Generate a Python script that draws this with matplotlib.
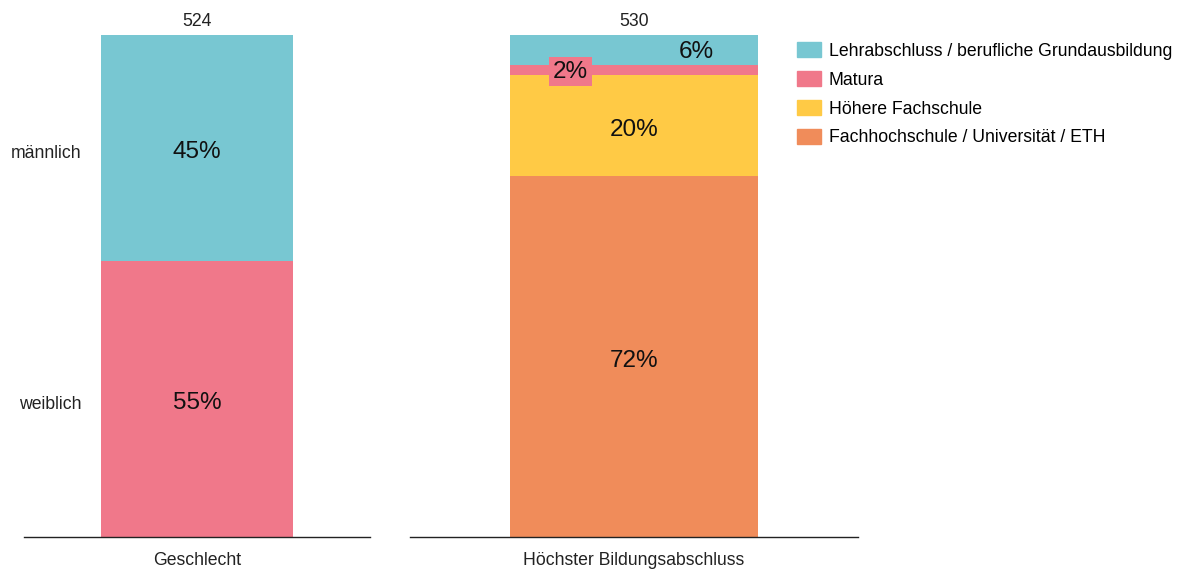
import matplotlib.pyplot as plt

plt.rcParams['font.family'] = ['Liberation Sans', 'DejaVu Sans']

# Geschlecht
gender_labels = ['weiblich', 'männlich']
gender_pct = [55, 45]
gender_n = 524

# Höchster Bildungsabschluss (von unten nach oben)
edu_labels = ['Fachhochschule / Universität / ETH', 'Höhere Fachschule', 'Matura',
              'Lehrabschluss / berufliche Grundausbildung']
edu_pct = [72, 20, 2, 6]
edu_n = 530

gender_colors = ['#F0788A', '#78C7D2']
edu_colors = ['#F08C5A', '#FFCA45', '#F0788A', '#78C7D2']

SMALL = 12.7
BIG = 17.5

fig = plt.figure(figsize=(11.77, 5.69), dpi=100)
W, H = 1177, 569
y0 = 1 - 537 / H
h = (537 - 35) / H
ax1 = fig.add_axes([24 / W, y0, 346 / W, h])
ax2 = fig.add_axes([410 / W, y0, 448 / W, h])


def stacked(ax, values, colors, total, title):
    bottom = 0
    mids = []
    for v, c in zip(values, colors):
        ax.bar(0, v, width=1.0, bottom=bottom, color=c, edgecolor='none')
        mids.append(bottom + v / 2)
        bottom += v
    ax.set_xlim(-0.9, 0.9)
    ax.set_ylim(0, 100)
    for s in ['top', 'right', 'left']:
        ax.spines[s].set_visible(False)
    ax.spines['bottom'].set_color('#222222')
    ax.spines['bottom'].set_linewidth(1.0)
    ax.set_xticks([])
    ax.set_yticks([])
    ax.text(0, 100 + 2.7, str(total), ha='center', va='center', fontsize=SMALL,
            color='#222222', clip_on=False)
    ax.text(0.5, -0.047, title, transform=ax.transAxes, ha='center', va='center',
            fontsize=SMALL, color='#222222')
    return mids


mids = stacked(ax1, gender_pct, gender_colors, gender_n, 'Geschlecht')
for m, v, lab in zip(mids, gender_pct, gender_labels):
    ax1.text(0, m - 0.9, f'{v}%', ha='center', va='center', fontsize=BIG, color='#111111')
    ax1.text(-0.60, m - 1.1, lab, ha='right', va='center', fontsize=SMALL, color='#222222')

mids = stacked(ax2, edu_pct, edu_colors, edu_n, 'Höchster Bildungsabschluss')
offsets = [0, 0, -0.255, 0.25]
for m, v, dx, c in zip(mids, edu_pct, offsets, edu_colors):
    if v < 5:
        ax2.text(dx, m - 0.3, f'{v}%', ha='center', va='center', fontsize=BIG, color='#111111',
                 bbox=dict(boxstyle='square,pad=0.15', fc=c, ec='none'))
    elif v < 10:
        ax2.text(dx, m - 0.3, f'{v}%', ha='center', va='center', fontsize=BIG, color='#111111')
    else:
        ax2.text(dx, m - 0.9, f'{v}%', ha='center', va='center', fontsize=BIG, color='#111111')

# Legende
handles = [plt.Rectangle((0, 0), 1, 1, color=c) for c in edu_colors[::-1]]
fig.legend(handles, edu_labels[::-1], loc='upper left', bbox_to_anchor=(797 / W, 1 - 42 / H),
           frameon=False, fontsize=SMALL, handlelength=1.36, handleheight=0.97,
           handletextpad=0.45, labelspacing=0.63, borderaxespad=0, borderpad=0)

fig.savefig('out.png', dpi=100)
